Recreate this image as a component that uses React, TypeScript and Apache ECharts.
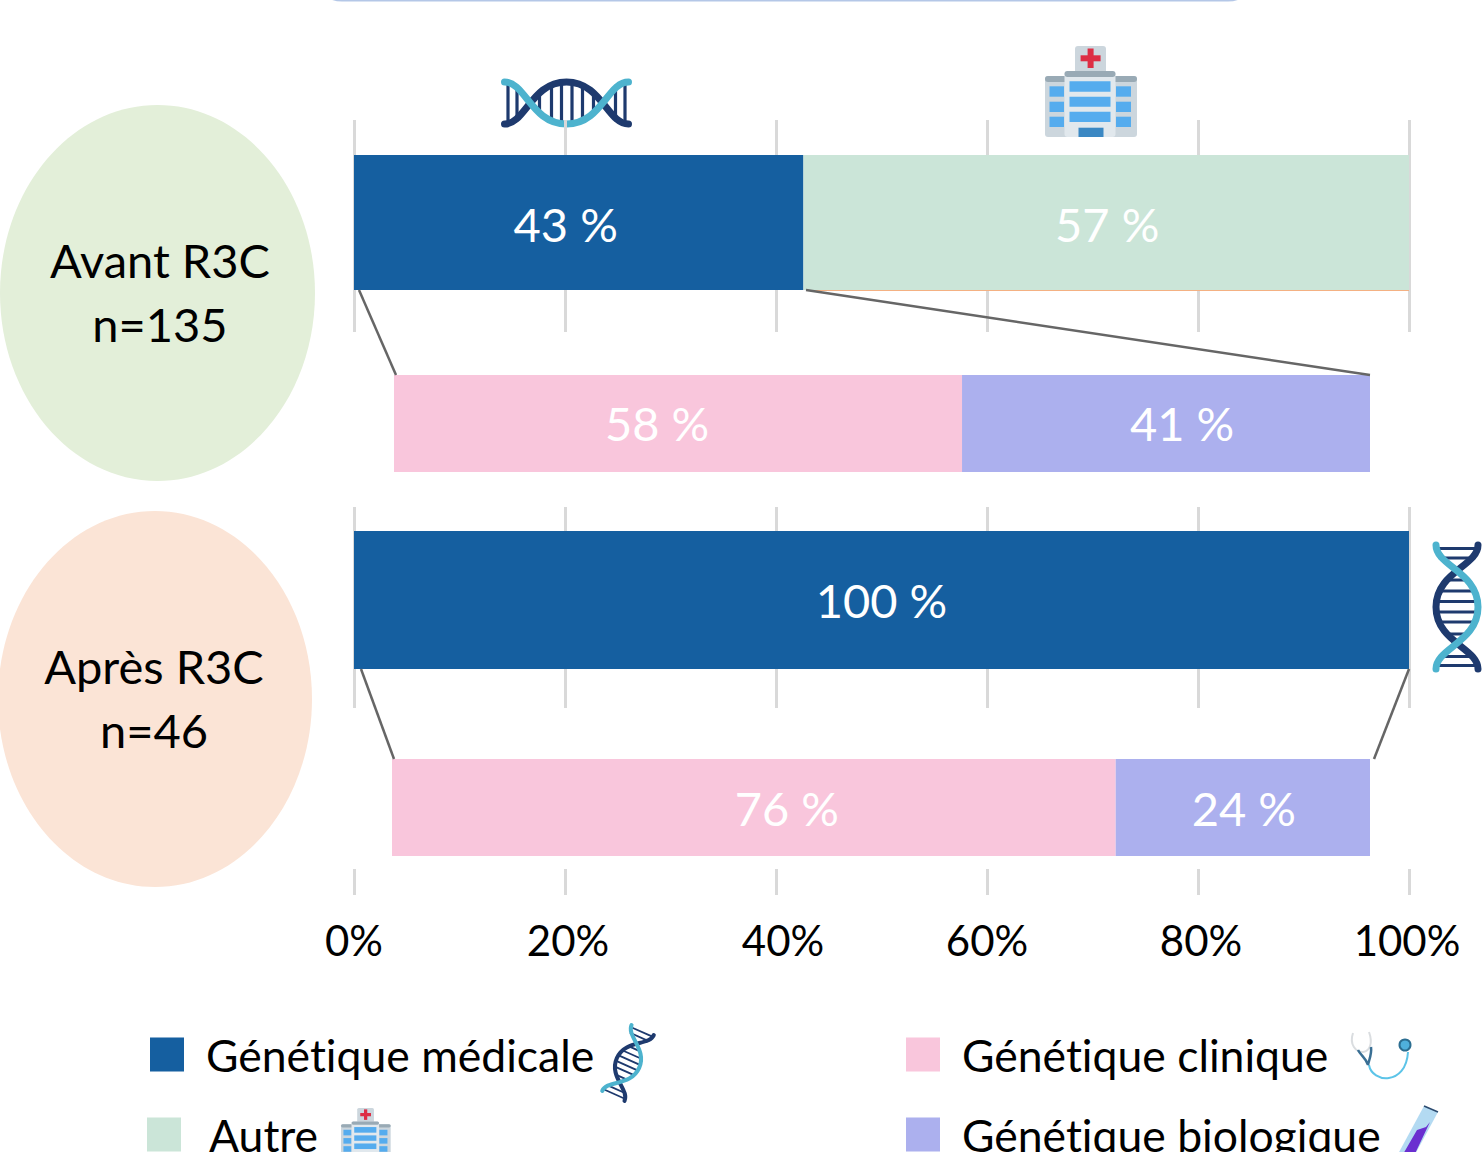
import React, { useEffect, useRef } from "react";
import * as echarts from "echarts";

const FONT = "Lato";
const tickValues = [0, 20, 40, 60, 80, 100];
const seriesMedicale = "Génétique médicale";
const seriesAutre = "Autre";
const seriesClinique = "Génétique clinique";
const seriesBiologique = "Génétique biologique";

// Bar lengths as drawn in the picture; printed labels as written in the picture.
const avantValues = [42.6, 57.4];
const avantLabels = ["43 %", "57 %"];
const avantSubValues = [58.2, 41.8];
const avantSubLabels = ["58 %", "41 %"];
const apresValues = [100];
const apresLabels = ["100 %"];
const apresSubValues = [74, 26];
const apresSubLabels = ["76 %", "24 %"];

const BLUE = "#155FA0";
const GREEN = "#CBE5D8";
const PINK = "#F9C6DC";
const PURPLE = "#ACB0EE";

const NAVY_D = "M3 42 C 24 42, 30 0, 65 0 C 100 0, 106 42, 127 42";
const TEAL_D = "M3 0 C 24 0, 30 42, 65 42 C 100 42, 106 0, 127 0";
const RUNG_D =
  "M6.5 2 L6.5 40 M15.5 4 L15.5 38 M50 4 L50 38 M60 1 L60 41 M70.5 1 L70.5 41 M81 4 L81 38 M92 10 L92 32 M38 10 L38 32 M114 4 L114 38 M123.5 2 L123.5 40";
echarts.graphic.registerShape("dnaNavy", echarts.graphic.extendPath(NAVY_D, {}));
echarts.graphic.registerShape("dnaTeal", echarts.graphic.extendPath(TEAL_D, {}));
echarts.graphic.registerShape("dnaRung", echarts.graphic.extendPath(RUNG_D, {}));

const steth = {
  tube: "M1369 1065 C 1372 1083, 1406 1086, 1408 1052",
  ear: "M1353 1033 C 1349 1045, 1356 1052, 1363 1052 C 1370 1051, 1373 1043, 1369 1032",
  fork: "M1358 1050 C 1361 1056, 1366 1058, 1368 1065 M1371 1047 C 1372 1054, 1369 1060, 1368 1065",
};
echarts.graphic.registerShape("stethTube", echarts.graphic.extendPath(steth.tube, {}));
echarts.graphic.registerShape("stethEar", echarts.graphic.extendPath(steth.ear, {}));
echarts.graphic.registerShape("stethFork", echarts.graphic.extendPath(steth.fork, {}));

function helix(cx: number, cy: number, rotation: number, scale: number) {
  const common = { x: -65, y: -21 };
  const line = { fill: "none", lineCap: "round" };
  return {
    type: "group",
    x: cx,
    y: cy,
    rotation,
    scaleX: scale,
    scaleY: scale,
    children: [
      { type: "dnaRung", ...common, style: { ...line, stroke: "#1E3A6E", lineWidth: 3.2 } },
      { type: "dnaNavy", ...common, style: { ...line, stroke: "#1E3A6E", lineWidth: 7 } },
      { type: "dnaTeal", ...common, style: { ...line, stroke: "#4DB3CE", lineWidth: 7 } },
    ],
  };
}

function hospital(x: number, y: number, scale: number) {
  const r = (x0: number, y0: number, x1: number, y1: number, fill: string, rad = 0) => ({
    type: "rect",
    shape: { x: x0, y: y0, width: x1 - x0, height: y1 - y0, r: rad },
    style: { fill },
  });
  const kids = [
    r(30, 0, 61, 28, "#CCD6DD", 3),
    r(42.6, 2.5, 48.6, 22, "#DD2E44"),
    r(35.6, 9.3, 55.6, 15.3, "#DD2E44"),
    r(0, 30, 92, 91, "#CCD6DD", 3),
    r(0, 30, 92, 36, "#99AAB5", 3),
    r(19.5, 25, 70.5, 91, "#E1E8ED", 3),
    r(19.5, 25, 70.5, 31, "#99AAB5", 3),
  ];
  [[35.3, 45.7], [50.7, 60.7], [65.7, 76]].forEach(([a, b]) => kids.push(r(24.5, a, 65.5, b, "#55ACEE")));
  [[40.3, 50.7], [55.7, 66], [70.7, 81]].forEach(([a, b]) => {
    kids.push(r(4.5, a, 19, b, "#55ACEE"));
    kids.push(r(71, a, 86, b, "#55ACEE"));
  });
  kids.push(r(33.5, 81.7, 58.5, 91, "#3B88C3"));
  return { type: "group", x, y, scaleX: scale, scaleY: scale, children: kids };
}

const ellipseLabel = (text: string, x: number, y: number) => ({
  type: "text",
  x,
  y,
  style: { text, fill: "#000", font: `47px ${FONT}`, textAlign: "center", textVerticalAlign: "middle" },
});
const connector = (x1: number, y1: number, x2: number, y2: number) => ({
  type: "line",
  shape: { x1, y1, x2, y2 },
  style: { stroke: "#666666", lineWidth: 2.5 },
});

function buildOption() {
  const grids = [
    { left: 354, width: 1055, top: 120, height: 212 },
    { left: 354, width: 1055, top: 507, height: 201 },
    { left: 354, width: 1055, top: 869, height: 26 },
    { left: 354, width: 1055, top: 155, height: 135 },
    { left: 394, width: 976, top: 375, height: 97 },
    { left: 354, width: 1055, top: 531, height: 138 },
    { left: 392, width: 978, top: 759, height: 97 },
  ];
  const tickNudge: Record<number, number> = { 0: 0, 20: 3, 40: 7, 60: 0, 80: 3, 100: -2 };
  const xAxes = grids.map((_, i) => ({
    type: "value",
    gridIndex: i,
    min: 0,
    max: 100,
    interval: 20,
    z: 0,
    axisLine: { show: false },
    axisTick: { show: false },
    splitLine: { show: i < 3, lineStyle: { color: "#D9D9D9", width: 3 } },
    axisLabel:
      i === 2
        ? {
            show: true,
            margin: 24,
            formatter: (v: number) => `{t${v}|${v}%}`,
            rich: Object.fromEntries(
              tickValues.map((v) => [
                `t${v}`,
                {
                  fontFamily: FONT,
                  fontSize: 42,
                  color: "#000",
                  padding: [0, tickNudge[v] < 0 ? -tickNudge[v] * 2 : 0, 0, tickNudge[v] > 0 ? tickNudge[v] * 2 : 0],
                },
              ])
            ),
          }
        : { show: false },
  }));
  const yAxes = grids.map((_, i) => ({
    type: "category",
    gridIndex: i,
    data: [""],
    show: false,
  }));
  const bar = (
    name: string,
    color: string,
    axisIndex: number,
    value: number,
    label: string,
    nudge: number,
    nudgeY: number
  ) => ({
    type: "bar",
    name,
    xAxisIndex: axisIndex,
    yAxisIndex: axisIndex,
    stack: `s${axisIndex}`,
    barWidth: "100%",
    z: 3,
    itemStyle: { color },
    label: {
      show: true,
      position: "inside",
      formatter: () => label,
      color: "#fff",
      fontFamily: FONT,
      fontSize: 47,
      offset: [nudge, nudgeY],
    },
    data: [value],
  });
  const legendItem = (name: string, left: number, top: number, gap: number) => ({
    data: [name],
    left,
    top,
    icon: "rect",
    itemWidth: 34,
    itemHeight: 34,
    selectedMode: false,
    padding: 0,
    textStyle: { fontFamily: FONT, fontSize: 44.5, color: "#000", padding: [0, 0, 3, gap] },
  });
  return {
    animation: false,
    backgroundColor: "#fff",
    grid: grids,
    xAxis: xAxes,
    yAxis: yAxes,
    legend: [
      legendItem(seriesMedicale, 150, 1032, 17),
      legendItem(seriesAutre, 147, 1112, 23),
      legendItem(seriesClinique, 906, 1032, 17),
      legendItem(seriesBiologique, 906, 1112, 17),
    ],
    series: [
      bar(seriesMedicale, BLUE, 3, avantValues[0], avantLabels[0], -13, 1),
      bar(seriesAutre, GREEN, 3, avantValues[1], avantLabels[1], 1, 1),
      bar(seriesClinique, PINK, 4, avantSubValues[0], avantSubLabels[0], -21, -1),
      bar(seriesBiologique, PURPLE, 4, avantSubValues[1], avantSubLabels[1], 16, -1),
      bar(seriesMedicale, BLUE, 5, apresValues[0], apresLabels[0], 0, 0),
      bar(seriesClinique, PINK, 6, apresSubValues[0], apresSubLabels[0], 33, 0),
      bar(seriesBiologique, PURPLE, 6, apresSubValues[1], apresSubLabels[1], 1, 0),
    ],
    graphic: [
      { type: "rect", shape: { x: 312, y: -60, width: 946, height: 60.5, r: 30 }, style: { fill: "none", stroke: "#B4C7E7", lineWidth: 2 } },
      { type: "ellipse", shape: { cx: 157.5, cy: 293, rx: 157.5, ry: 188 }, style: { fill: "#E3EFD9" } },
      { type: "ellipse", shape: { cx: 155, cy: 699, rx: 157, ry: 188 }, style: { fill: "#FBE4D6" } },
      ellipseLabel("Avant R3C", 160, 260),
      ellipseLabel("n=135", 160, 324),
      ellipseLabel("Après R3C", 154, 666),
      ellipseLabel("n=46", 154, 730),
      { type: "line", z: 10, shape: { x1: 806, y1: 290.5, x2: 1409, y2: 290.5 }, style: { stroke: "#F4B183", lineWidth: 1 } },
      { ...connector(359, 290, 396, 375), z: 10 },
      { ...connector(806, 290, 1370, 375), z: 10 },
      { ...connector(361, 669, 394, 759), z: 10 },
      { ...connector(1409, 669, 1374, 759), z: 10 },
      helix(566.5, 103, 0, 1),
      helix(1457, 607, Math.PI / 2, 1),
      helix(628, 1063, (66 * Math.PI) / 180, 0.58),
      hospital(1045, 46, 1),
      hospital(341, 1108, 0.54),
      { type: "stethTube", style: { fill: "none", stroke: "#5CC4E8", lineWidth: 2 } },
      { type: "stethEar", style: { fill: "none", stroke: "#DADDE0", lineWidth: 2 } },
      { type: "stethFork", style: { fill: "none", stroke: "#3A6F94", lineWidth: 2.5 } },
      { type: "circle", shape: { cx: 1405, cy: 1045, r: 5.5 }, style: { fill: "#4FB0DC", stroke: "#2C6E91", lineWidth: 2 } },
      { type: "polygon", shape: { points: [[1424, 1106], [1438, 1112], [1412, 1160], [1398, 1154]] }, style: { fill: "#B3DAF2" } },
      { type: "polygon", shape: { points: [[1417, 1130], [1426, 1127], [1430, 1122], [1412, 1160], [1402, 1156]] }, style: { fill: "#6A2FD0" } },
      { type: "line", shape: { x1: 1424, y1: 1106, x2: 1438, y2: 1112 }, style: { stroke: "#2B4A6F", lineWidth: 1.5 } },
    ],
  };
}

export default function App() {
  const ref = useRef<HTMLDivElement>(null);
  useEffect(() => {
    document.body.style.margin = "0";
    document.body.style.overflow = "hidden";
    const chart = echarts.init(ref.current!, null, { renderer: "svg" });
    chart.setOption(buildOption() as any);
    return () => chart.dispose();
  }, []);
  return <div ref={ref} style={{ width: 1482, height: 1152, fontVariantLigatures: "none" }} />;
}
